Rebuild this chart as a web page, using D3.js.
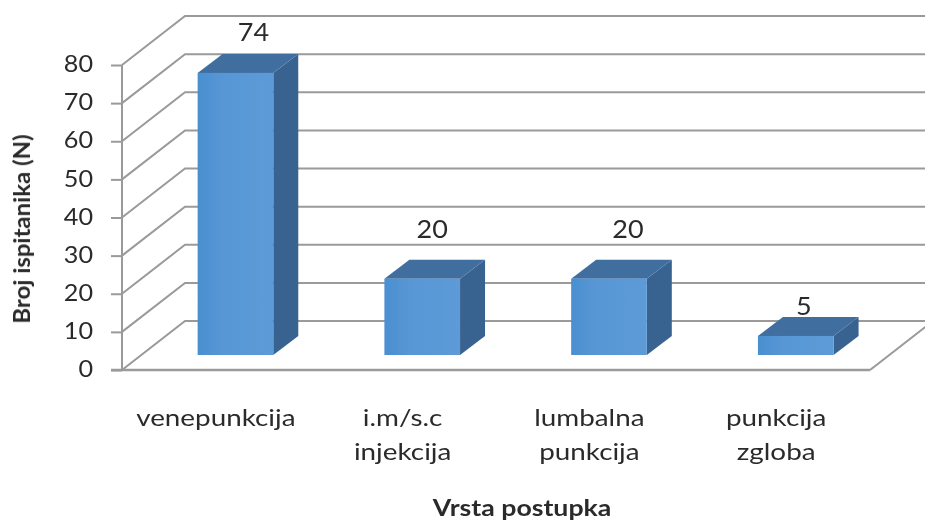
<!DOCTYPE html>
<html><head><meta charset="utf-8">
<script src="https://cdnjs.cloudflare.com/ajax/libs/d3/7.8.5/d3.min.js"></script>
<style>html,body{margin:0;background:#fff}svg{display:block}text{font-family:Lato,"Open Sans",sans-serif;fill:#2b2b2b}</style>
</head><body><svg id="c" width="925" height="520"></svg>
<script>
const categories=[["venepunkcija"],["i.m/s.c","injekcija"],["lumbalna","punkcija"],["punkcija","zgloba"]];
const values=[74,20,20,5];
const tickValues=[0,10,20,30,40,50,60,70,80];
const yTitle="Broj ispitanika (N)", xTitle="Vrsta postupka";
const labelLift=[13,22,22,2];
const labelShift=[18,10,19,8];

const W=925,H=520,x0=122,x1=870,y0=370,y1=65;
const wallDx=63,wallDy=-49, barDx=19.6,barDy=-15, depthDx=25,depthDy=-19;
const svg=d3.select("#c");
const defs=svg.append("defs");
defs.append("filter").attr("id","soft").append("feGaussianBlur").attr("stdDeviation",0.6);
const g=svg.append("g").attr("filter","url(#soft)");

const y=d3.scaleLinear().domain([0,80]).range([y0,y1]);
const x=d3.scaleBand().domain(d3.range(categories.length)).range([x0,x1]).paddingInner(0.595).paddingOuter(0.3);
const gridC="#9a9a9a";

function label(sel,px,py,str,size,sx,weight,rot){
  sel.append("text").attr("transform",`translate(${px},${py})${rot?` rotate(${rot})`:""} scale(${sx},1)`)
    .attr("text-anchor","middle").style("font-size",size+"px").style("font-weight",weight||400).text(str);
}

tickValues.forEach(v=>{
  g.append("path").attr("fill","none").attr("stroke",gridC).attr("stroke-width",2)
    .attr("d",`M${x0},${y(v)}L${x0+wallDx},${y(v)+wallDy}L${W+5},${y(v)+wallDy}`);
});
g.append("line").attr("x1",x1).attr("y1",y0).attr("x2",x1+wallDx).attr("y2",y0+wallDy).attr("stroke",gridC).attr("stroke-width",2);

const ax=g.append("g").attr("transform",`translate(${x0},0)`)
  .call(d3.axisLeft(y).tickValues(tickValues).tickSize(11).tickPadding(18).tickFormat(d3.format("d")));
ax.selectAll("line,path").attr("stroke",gridC).attr("stroke-width",2);
ax.select(".domain").attr("d",`M0,${y1}V${y0}`);
ax.selectAll("text").style("font-size","24px").attr("fill","#2b2b2b")
  .attr("transform",function(){const tx=+this.getAttribute("x");this.setAttribute("x",0);return `translate(${tx},-1) scale(1.05,1)`;});
g.append("line").attr("x1",x0-11).attr("x2",x1).attr("y1",y0).attr("y2",y0).attr("stroke",gridC).attr("stroke-width",2.5);

values.forEach((v,i)=>{
  const l=x(i)+barDx, r=l+x.bandwidth(), b=y0+barDy, t=y(v)+barDy;
  const grad=defs.append("linearGradient").attr("id","f"+i);
  grad.append("stop").attr("offset","0").attr("stop-color","#4a8fd0");
  grad.append("stop").attr("offset","0.35").attr("stop-color","#5897d5");
  grad.append("stop").attr("offset","1").attr("stop-color","#5c9bd8");
  const dx=depthDx,dy=depthDy;
  g.append("path").attr("fill","#386290").attr("d",`M${r},${t}L${r+dx},${t+dy}V${b+dy}L${r},${b}Z`);
  g.append("path").attr("fill","#3f6e9f").attr("d",`M${l},${t}L${l+dx},${t+dy}H${r+dx}L${r},${t}Z`);
  g.append("rect").attr("x",l).attr("y",t).attr("width",r-l).attr("height",b-t).attr("fill",`url(#f${i})`);
  label(g,(l+r)/2+labelShift[i],t+dy-labelLift[i],v,25,1.08);
  categories[i].forEach((s,j)=>{
    label(g,x(i)+x.bandwidth()/2,426+j*34,s,24,1.16);
  });
});

label(g,30,229,yTitle,22,1.09,700,-90);
label(g,522,516,xTitle,23,1.16,700);
</script></body></html>
